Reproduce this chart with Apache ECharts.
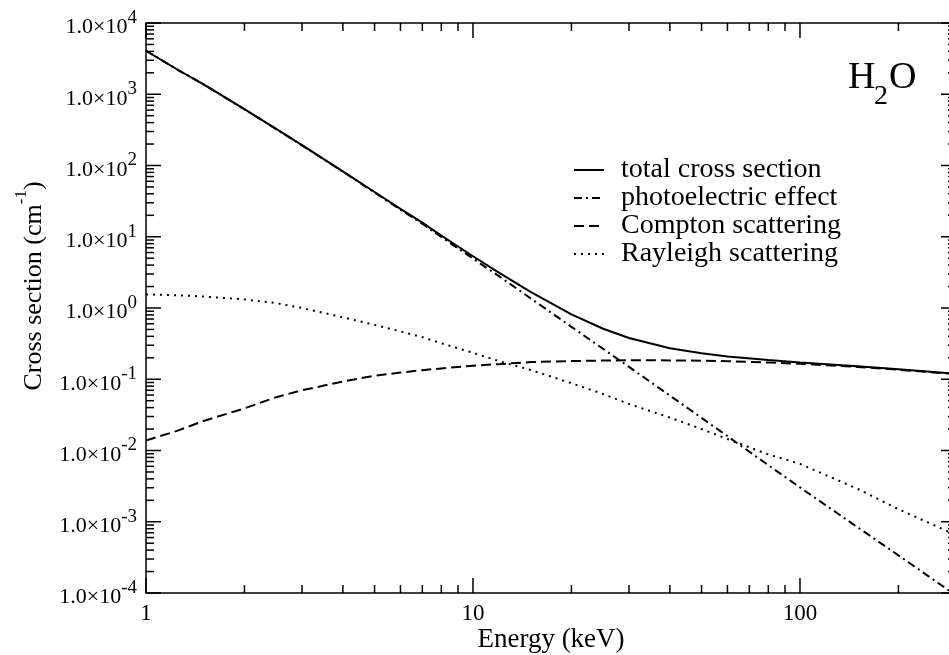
<!DOCTYPE html>
<html>
<head>
<meta charset="utf-8">
<script src="https://cdn.jsdelivr.net/npm/echarts@6/dist/echarts.min.js"></script>
<style>
html,body{margin:0;padding:0;background:#fff;}
#chart{width:949px;height:655px;}
</style>
</head>
<body>
<div id="chart"></div>
<script>
// ---- data ----
const energies   = [1, 1.25, 1.5, 2, 2.5, 3, 4, 5, 6, 7, 8, 10, 12, 15, 20, 25, 30, 40, 50, 60, 80, 100, 150, 200, 300];
const totalCS    = [4078, 2207, 1374, 617, 326.5, 192.8, 82.7, 42.5, 24.6, 15.8, 10.38, 5.33, 3.14, 1.68, 0.812, 0.512, 0.379, 0.272, 0.231, 0.209, 0.187, 0.172, 0.152, 0.138, 0.119];
const photoCS    = [4076, 2205, 1372, 615, 325, 191.7, 81.9, 41.8, 24.0, 15.2, 9.92, 4.94, 2.80, 1.37, 0.544, 0.267, 0.149, 0.0590, 0.0287, 0.0159, 0.00622, 0.00303, 0.000838, 0.000338, 0.0000925];
const comptonCS  = [0.0138, 0.019, 0.026, 0.039, 0.056, 0.070, 0.093, 0.112, 0.124, 0.134, 0.142, 0.155, 0.163, 0.174, 0.180, 0.183, 0.185, 0.184, 0.182, 0.179, 0.172, 0.165, 0.149, 0.136, 0.118];
const rayleighCS = [1.55, 1.51, 1.45, 1.32, 1.17, 1.0, 0.74, 0.58, 0.47, 0.39, 0.32, 0.235, 0.18, 0.135, 0.088, 0.062, 0.045, 0.029, 0.020, 0.0145, 0.0088, 0.0065, 0.0029, 0.0015, 0.00065];

const seriesNames = ['total cross section', 'photoelectric effect', 'Compton scattering', 'Rayleigh scattering'];

const xMajorTicks = [1, 10, 100];
const xMinorTicks = [2, 3, 4, 5, 6, 7, 8, 9, 20, 30, 40, 50, 60, 70, 80, 90, 200];
const yMajorTicks = [1e-4, 1e-3, 1e-2, 1e-1, 1, 10, 100, 1000, 10000];
const yMinorMultipliers = [2, 3, 4, 5, 6, 7, 8, 9];

const xMin = 1, xMax = 300, yMin = 1e-4, yMax = 1e4;
// ----------------------------------------

const FONT = 'Liberation Serif';
const pair = (arr) => energies.map((e, i) => [e, arr[i]]);

const yMinorTicks = [];
yMajorTicks.slice(0, -1).forEach(d => yMinorMultipliers.forEach(m => yMinorTicks.push(m * d)));

const xTickData = xMajorTicks.map(v => [v, 1, 1]).concat(xMinorTicks.map(v => [v, 1, 0]));
const yTickData = yMajorTicks.map(v => [1, v, 1]).concat(yMinorTicks.map(v => [1, v, 0]));

const TICK_MAJOR = 15, TICK_MINOR = 8, TICK_W = 1.5;

function renderXTick(params, api) {
  const cs = params.coordSys;
  const len = api.value(2) === 1 ? TICK_MAJOR : TICK_MINOR;
  const x = api.coord([api.value(0), 1])[0];
  const yb = cs.y + cs.height, yt = cs.y;
  const st = {stroke: '#000', lineWidth: TICK_W};
  return {type: 'group', children: [
    {type: 'line', shape: {x1: x, y1: yb, x2: x, y2: yb - len}, style: st},
    {type: 'line', shape: {x1: x, y1: yt, x2: x, y2: yt + len}, style: st}
  ]};
}
function renderYTick(params, api) {
  const cs = params.coordSys;
  const len = api.value(2) === 1 ? TICK_MAJOR : TICK_MINOR;
  const y = api.coord([1, api.value(1)])[1];
  const xl = cs.x, xr = cs.x + cs.width;
  const st = {stroke: '#000', lineWidth: TICK_W};
  return {type: 'group', children: [
    {type: 'line', shape: {x1: xl, y1: y, x2: xl + len, y2: y}, style: st},
    {type: 'line', shape: {x1: xr, y1: y, x2: xr - len, y2: y}, style: st}
  ]};
}

const lineSeries = (name, arr, type, width) => ({
  name: name,
  type: 'line',
  data: pair(arr),
  symbol: 'none',
  showSymbol: false,
  smooth: false,
  clip: true,
  lineStyle: {color: '#000', width: width, type: type, cap: 'butt'},
  itemStyle: {color: '#000'},
  emphasis: {disabled: true},
  z: 3
});

const chart = echarts.init(document.getElementById('chart'), null, {renderer: 'canvas'});
chart.setOption({
  animation: false,
  backgroundColor: '#fff',
  grid: {left: 146, right: -7, top: 23, bottom: 62, show: true, borderColor: '#000', borderWidth: 1.5,
         backgroundColor: 'transparent', containLabel: false, outerBoundsMode: 'none'},
  legend: {
    data: seriesNames,
    orient: 'vertical',
    left: 573,
    top: 156,
    padding: 0,
    itemWidth: 30,
    itemHeight: 14,
    itemGap: 0,
    selectedMode: false,
    itemStyle: {opacity: 0, borderWidth: 0},
    textStyle: {fontFamily: FONT, fontSize: 28, color: '#000', lineHeight: 28, padding: [0, 0, 0, 12]}
  },
  xAxis: {
    type: 'log',
    logBase: 10,
    min: xMin,
    max: xMax,
    name: 'Energy (keV)',
    nameLocation: 'middle',
    nameGap: 33,
    nameMoveOverlap: false,
    nameTextStyle: {fontFamily: FONT, fontSize: 27, color: '#000'},
    axisLine: {show: false},
    axisTick: {show: false},
    minorTick: {show: false},
    splitLine: {show: false},
    axisLabel: {
      margin: 9,
      fontFamily: FONT, fontSize: 23, color: '#000',
      formatter: function (v) {
        const l = Math.log10(v);
        if (Math.abs(l - Math.round(l)) > 1e-6) return '';
        return String(Math.round(Math.pow(10, Math.round(l))));
      }
    }
  },
  yAxis: {
    type: 'log',
    logBase: 10,
    min: yMin,
    max: yMax,
    splitNumber: 8,
    name: '{n|Cross section (cm}{s|-1}{n|)}',
    nameLocation: 'middle',
    nameGap: 99,
    nameMoveOverlap: false,
    nameTextStyle: {
      padding: [0, 0, 0, 44],
      rich: {
        n: {fontFamily: FONT, fontSize: 26, color: '#000', lineHeight: 34, verticalAlign: 'bottom'},
        s: {fontFamily: FONT, fontSize: 17, color: '#000', lineHeight: 17, verticalAlign: 'top'}
      }
    },
    axisLine: {show: false},
    axisTick: {show: false},
    minorTick: {show: false},
    splitLine: {show: false},
    axisLabel: {
      margin: 9,
      padding: [1, 0, 0, 0],
      formatter: function (v) {
        const e = Math.round(Math.log10(v));
        return '{b|1.0×10}{s|' + e + '}';
      },
      rich: {
        b: {fontFamily: FONT, fontSize: 22, color: '#000', lineHeight: 30, verticalAlign: 'bottom'},
        s: {fontFamily: FONT, fontSize: 19, color: '#000', lineHeight: 19, verticalAlign: 'top'}
      }
    }
  },
  graphic: [
    {type: 'text', left: 848, top: 59, style: {text: 'H', font: '38px "Liberation Serif"', fill: '#000'}, z: 10},
    {type: 'text', left: 874, top: 83, style: {text: '2', font: '28px "Liberation Serif"', fill: '#000'}, z: 10},
    {type: 'text', left: 889, top: 59, style: {text: 'O', font: '38px "Liberation Serif"', fill: '#000'}, z: 10}
  ],
  series: [
    lineSeries(seriesNames[0], totalCS, 'solid', 2),
    lineSeries(seriesNames[1], photoCS, [8, 4, 2, 4], 2),
    lineSeries(seriesNames[2], comptonCS, [10, 5], 2),
    lineSeries(seriesNames[3], rayleighCS, [2, 5], 2),
    {type: 'custom', name: 'xticks', data: xTickData, renderItem: renderXTick, silent: true, clip: false, z: 5,
     dimensions: ['x', 'y', 'major'], encode: {x: 0, y: 1}},
    {type: 'custom', name: 'yticks', data: yTickData, renderItem: renderYTick, silent: true, clip: false, z: 5,
     dimensions: ['x', 'y', 'major'], encode: {x: 0, y: 1}}
  ]
});
</script>
</body>
</html>
